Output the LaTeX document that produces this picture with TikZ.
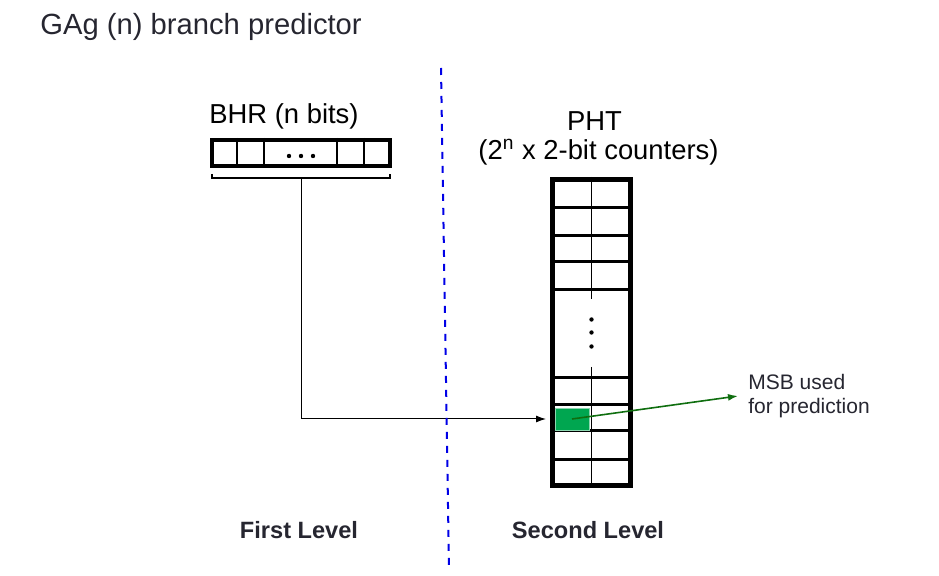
\documentclass[tikz,border=0pt]{standalone}
\usepackage{fontspec}
\setmainfont{Liberation Sans}
\usetikzlibrary{shapes,arrows.meta,positioning,calc}
\definecolor{txtgray}{RGB}{38,38,48}
\definecolor{cellgreen}{RGB}{0,166,80}
\definecolor{arrowgreen}{RGB}{15,110,15}
\definecolor{divblue}{RGB}{0,0,230}

\begin{document}
\begin{tikzpicture}[x=0.5pt,y=-0.5pt]
    % Define styles
    \tikzstyle{reg} = [rectangle, draw, line width=2pt, inner sep=0pt]
    \tikzstyle{table} = [rectangle, draw, line width=2.5pt, inner sep=0pt]
    \tikzstyle{cellline} = [line width=0.6pt]
    \tikzstyle{rowline} = [line width=1.5pt]
    \tikzstyle{arrow} = [line width=0.5pt,->,>={Latex[length=5pt,width=3.5pt]}]
    \tikzstyle{regtext} = [font=\fontsize{13.7}{14}\selectfont, inner sep=0pt]
    \tikzstyle{lvltext} = [font=\fontsize{11.8}{14}\selectfont\bfseries, text=txtgray]

    \useasboundingbox (0,0) rectangle (939,576);

    % Title
    \node[anchor=base west, inner sep=0pt, text=txtgray,
        font=\fontsize{14.6}{17}\selectfont] (title) at (40,35) {GAg (n) branch predictor};

    % Nodes
    \node[reg, minimum width=89pt, minimum height=13pt] (bhr) at (301,153) {};
    \node[regtext, above=4pt of bhr, xshift=-8.5pt] (bhrname) {BHR (n bits)};
    \node[table, minimum width=39pt, minimum height=153pt] (pht) at (591.5,332.5) {};
    \node[regtext, above=5.5pt of pht, xshift=3.5pt] (phtsize) {(2\textsuperscript{n} x 2-bit counters)};
    \node[regtext, above=4pt of phtsize, xshift=-2pt] (phtname) {PHT};
    \node[anchor=west, inner sep=5pt, align=left, text=txtgray,
        font=\fontsize{10.5}{12}\selectfont] (msb) at (738,396) {MSB used\\for prediction};
    \node[lvltext] (first) at (299,530) {First Level};
    \node[lvltext] (second) at (588,530) {Second Level};

    % BHR cells
    \foreach \dx in {27,54,127,154}
        \draw[cellline] ($(bhr.north west)+(\dx,0)$) -- ($(bhr.south west)+(\dx,0)$);
    \foreach \dx in {-12,0,12}
        \fill ($(bhr.center)+(\dx,3)$) circle (2.2);

    % PHT rows
    \foreach \dy in {31,59,85,113,201,228,254,283}
        \draw[rowline] ($(pht.north west)+(0,\dy)$) -- ($(pht.north east)+(0,\dy)$);
    \draw[cellline] (pht.north) -- ($(pht.north)+(0,122)$);
    \draw[cellline] ($(pht.south)+(0,-121)$) -- (pht.south);
    \foreach \dy in {-13,0,14}
        \fill ($(pht.center)+(0,\dy)$) circle (2.2);
    \node[rectangle, draw=cellgreen!45!white, fill=cellgreen, line width=0.4pt,
        minimum width=17pt, minimum height=11pt, inner sep=0pt] (msbcell) at (572,419) {};

    % Arrows
    \coordinate (brk) at ($(bhr.south)+(0,10)$);
    \draw[cellline] ($(brk)+(-89,-4)$) -- ++(0,4) -- ++(178,0) -- ++(0,-4);
    \draw[arrow, shorten >=2pt] (brk) |- (pht.west |- msbcell);
    \draw[arrowgreen, line width=0.8pt, -{Latex[length=5pt,width=3.5pt]}] (msbcell.center) -- (msb.west);

    % Divider
    \coordinate (divtop) at (441,68);
    \coordinate (divbot) at (449,568);
    \draw[divblue, line width=1pt, dash pattern=on 3.5pt off 3.5pt] (divtop) -- (divbot);
\end{tikzpicture}
\end{document}
